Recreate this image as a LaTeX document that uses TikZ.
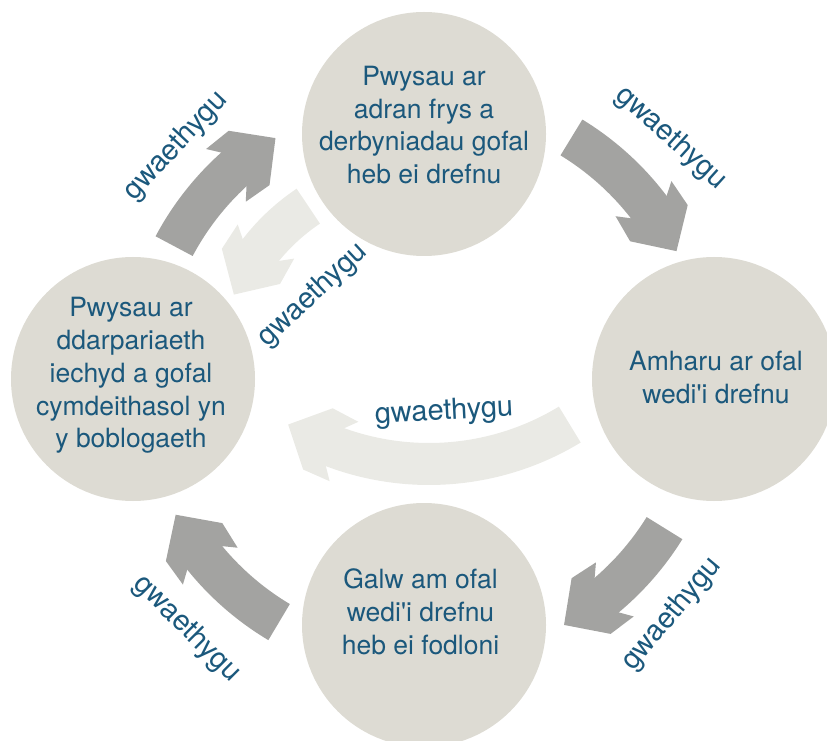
\documentclass[tikz,border=0pt]{standalone}
\usepackage{fontspec}
\setmainfont{TeX Gyre Heros}

\definecolor{stagegrey}{RGB}{221,219,211}
\definecolor{arrowdark}{RGB}{163,163,161}
\definecolor{arrowlight}{RGB}{234,234,229}
\definecolor{textblue}{RGB}{27,88,124}

\tikzset{
    stage/.style={circle, fill=stagegrey, minimum size=244pt, inner sep=0pt},
    stagetext/.style={align=center, text=textblue, inner sep=0pt, font=\fontsize{26.5}{32.8}\selectfont},
    worse/.style={text=textblue, inner sep=0pt, font=\fontsize{29}{33}\selectfont},
    arrowhead/.pic={\fill (0,21) -- (-10,33) -- (19,34) -- (52,0) -- (19,-34) -- (-10,-33) -- (0,-21) -- cycle;}
}

\begin{document}
\begin{tikzpicture}[x=1pt, y=1pt]

    % constants
    \def\rdark{283pt}
    \def\rmid{208pt}
    \def\rlow{271pt}
    \def\half{21pt}

    \useasboundingbox (0,0) rectangle (827,740);

    % light arrows
    \begin{scope}[shift={(424,361)}]
        \fill [arrowlight] (123.8:{\rmid-\half}) arc [start angle=123.8, end angle=143.7, radius=\rmid-\half] -- (143.7:{\rmid+\half}) arc [start angle=143.7, end angle=123.8, radius=\rmid+\half] -- cycle;
        \pic [arrowlight, rotate=238.85] at (141.7:\rmid) {arrowhead};
    \end{scope}

    \begin{scope}[shift={(429,547)}]
        \fill [arrowlight] (-58.7:{\rlow-\half}) arc [start angle=-58.7, end angle=-112.3, radius=\rlow-\half] -- (-112.3:{\rlow+\half}) arc [start angle=-112.3, end angle=-58.7, radius=\rlow+\half] -- cycle;
        \pic [arrowlight, rotate=-205.8] at (-110.3:\rlow) {arrowhead};
    \end{scope}

    % dark arrows, tail and tip angles round the middle
    \begin{scope}[shift={(424,361)}]
    \foreach \a/\b in {152/121.7, 58.6/26.9, -31.8/-60.3, -120.8/-151.3} {
        \pgfmathsetmacro\bandend{\b+8.5}
        \pgfmathsetmacro\headat{\b+10.5}
        \pgfmathsetmacro\rot{\b+5.25-90}
        \fill [arrowdark] (\a:{\rdark-\half}) arc [start angle=\a, end angle=\bandend, radius=\rdark-\half] -- (\bandend:{\rdark+\half}) arc [start angle=\bandend, end angle=\a, radius=\rdark+\half] -- cycle;
        \pic [arrowdark, rotate=\rot] at (\headat:\rdark) {arrowhead};
    }
    \end{scope}

    % stages
    \node [stage] (adran) at (424,606) {};
    \node [stage] (amharu) at (714,361) {};
    \node [stage] (galw) at (424,115) {};
    \node [stage] (darpariaeth) at (133,361) {};

    \node [stagetext] (adrantext) at (424,615) {Pwysau ar\\adran frys a\\derbyniadau gofal\\heb ei drefnu};
    \node [stagetext] (amharutext) at (716,362.5) {Amharu ar ofal\\wedi\textquotesingle i drefnu};
    \node [stagetext] (galwtext) at (420.5,128) {Galw am ofal\\wedi\textquotesingle i drefnu\\heb ei fodloni};
    \node [stagetext] (darpariaethtext) at (131,364.4) {Pwysau ar\\ddarpariaeth\\iechyd a gofal\\cymdeithasol yn\\y boblogaeth};

    % labels
    \node [worse, rotate=47] (worse1) at (176,594) {gwaethygu};
    \node [worse, rotate=-42] (worse2) at (671,602) {gwaethygu};
    \node [worse, rotate=50] (worse3) at (672,126) {gwaethygu};
    \node [worse, rotate=-45] (worse4) at (187,111) {gwaethygu};
    \node [worse, rotate=43] (worse5) at (313,445) {gwaethygu};
    \node [worse, rotate=3] (worse6) at (444,328) {gwaethygu};

\end{tikzpicture}
\end{document}
